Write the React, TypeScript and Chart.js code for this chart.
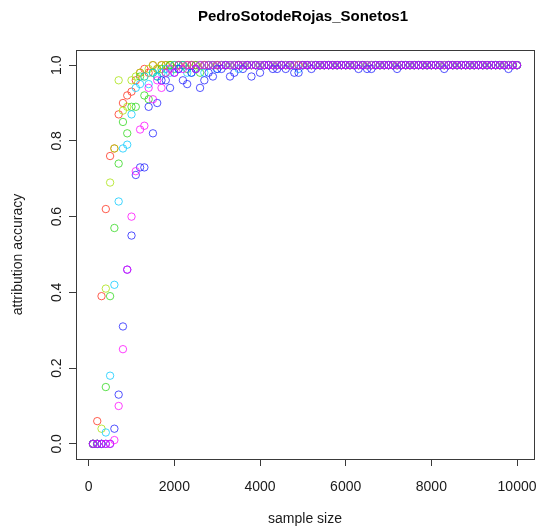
import React, { useEffect, useRef } from 'react';
import { Chart, registerables } from 'chart.js';

Chart.register(...registerables);

const chartTitle = 'PedroSotodeRojas_Sonetos1';
const xAxisTitle = 'sample size';
const yAxisTitle = 'attribution accuracy';

const sampleSizes = [
  100, 200, 300, 400, 500, 600, 700, 800, 900, 1000,
  1100, 1200, 1300, 1400, 1500, 1600, 1700, 1800, 1900, 2000,
  2100, 2200, 2300, 2400, 2500, 2600, 2700, 2800, 2900, 3000,
  3100, 3200, 3300, 3400, 3500, 3600, 3700, 3800, 3900, 4000,
  4100, 4200, 4300, 4400, 4500, 4600, 4700, 4800, 4900, 5000,
  5100, 5200, 5300, 5400, 5500, 5600, 5700, 5800, 5900, 6000,
  6100, 6200, 6300, 6400, 6500, 6600, 6700, 6800, 6900, 7000,
  7100, 7200, 7300, 7400, 7500, 7600, 7700, 7800, 7900, 8000,
  8100, 8200, 8300, 8400, 8500, 8600, 8700, 8800, 8900, 9000,
  9100, 9200, 9300, 9400, 9500, 9600, 9700, 9800, 9900, 10000,
];

const redValues = [
  0, 0.06, 0.39, 0.62, 0.76, 0.78, 0.87, 0.9, 0.92, 0.93,
  0.96, 0.98, 0.99, 0.98, 1, 0.99, 1, 1, 1, 1,
  1, 1, 1, 1, 1, 1, 1, 1, 1, 1,
  1, 1, 1, 1, 1, 1, 1, 1, 1, 1,
  1, 1, 1, 1, 1, 1, 1, 1, 1, 1,
  1, 1, 1, 1, 1, 1, 1, 1, 1, 1,
  1, 1, 1, 1, 1, 1, 1, 1, 1, 1,
  1, 1, 1, 1, 1, 1, 1, 1, 1, 1,
  1, 1, 1, 1, 1, 1, 1, 1, 1, 1,
  1, 1, 1, 1, 1, 1, 1, 1, 1, 1,
];

const yellowGreenValues = [
  0, 0, 0.04, 0.41, 0.69, 0.78, 0.96, 0.88, 0.89, 0.96,
  0.97, 0.98, 0.97, 0.99, 1, 0.99, 1, 1, 1, 1,
  1, 1, 1, 1, 0.99, 1, 1, 1, 1, 1,
  1, 1, 1, 1, 1, 1, 1, 1, 1, 1,
  1, 1, 1, 1, 1, 1, 1, 1, 1, 1,
  1, 1, 1, 1, 1, 1, 1, 1, 1, 1,
  1, 1, 1, 1, 1, 1, 1, 1, 1, 1,
  1, 1, 1, 1, 1, 1, 1, 1, 1, 1,
  1, 1, 1, 1, 1, 1, 1, 1, 1, 1,
  1, 1, 1, 1, 1, 1, 1, 1, 1, 1,
];

const greenValues = [
  0, 0, 0, 0.15, 0.39, 0.57, 0.74, 0.85, 0.82, 0.89,
  0.89, 0.97, 0.92, 0.91, 0.98, 0.97, 0.99, 0.98, 1, 0.99,
  1, 1, 0.99, 1, 1, 0.98, 1, 1, 1, 1,
  1, 1, 1, 1, 1, 1, 1, 1, 1, 1,
  1, 1, 1, 1, 1, 1, 1, 1, 1, 1,
  1, 1, 1, 1, 1, 1, 1, 1, 1, 1,
  1, 1, 1, 1, 1, 1, 1, 1, 1, 1,
  1, 1, 1, 1, 1, 1, 1, 1, 1, 1,
  1, 1, 1, 1, 1, 1, 1, 1, 1, 1,
  1, 1, 1, 1, 1, 1, 1, 1, 1, 1,
];

const cyanValues = [
  0, 0, 0, 0.03, 0.18, 0.42, 0.64, 0.78, 0.79, 0.87,
  0.94, 0.95, 0.97, 0.95, 0.98, 0.97, 0.98, 0.99, 0.98, 1,
  0.99, 1, 0.98, 0.98, 0.99, 1, 0.98, 1, 1, 0.99,
  1, 1, 1, 1, 0.99, 1, 1, 1, 1, 1,
  1, 1, 1, 1, 1, 1, 1, 1, 0.99, 1,
  1, 1, 1, 1, 1, 1, 1, 1, 1, 1,
  1, 1, 1, 1, 1, 1, 1, 1, 1, 1,
  1, 1, 1, 1, 1, 1, 1, 1, 1, 1,
  1, 1, 1, 1, 1, 1, 1, 1, 1, 1,
  1, 1, 1, 1, 1, 1, 1, 1, 1, 1,
];

const blueValues = [
  0, 0, 0, 0, 0, 0.04, 0.13, 0.31, 0.46, 0.55,
  0.71, 0.73, 0.73, 0.89, 0.82, 0.9, 0.96, 0.96, 0.94, 0.98,
  0.99, 0.96, 0.95, 0.98, 0.99, 0.94, 0.96, 0.98, 0.97, 0.99,
  0.99, 1, 0.97, 0.98, 1, 0.99, 1, 0.97, 1, 0.98,
  1, 1, 0.99, 0.99, 1, 0.99, 1, 0.98, 0.98, 1,
  1, 0.99, 1, 1, 1, 1, 1, 1, 1, 1,
  1, 1, 0.99, 1, 0.99, 0.99, 1, 1, 1, 1,
  1, 0.99, 1, 1, 1, 1, 1, 1, 1, 1,
  1, 1, 0.99, 1, 1, 1, 1, 1, 1, 1,
  1, 1, 1, 1, 1, 1, 1, 0.99, 1, 1,
];

const magentaValues = [
  0, 0, 0, 0, 0, 0.01, 0.1, 0.25, 0.46, 0.6,
  0.72, 0.83, 0.84, 0.94, 0.91, 0.96, 0.94, 0.98, 0.99, 0.98,
  1, 0.99, 1, 1, 0.99, 1, 1, 1, 1, 1,
  1, 1, 1, 1, 1, 1, 1, 1, 1, 1,
  1, 1, 1, 1, 1, 1, 1, 1, 1, 1,
  1, 1, 1, 1, 1, 1, 1, 1, 1, 1,
  1, 1, 1, 1, 1, 1, 1, 1, 1, 1,
  1, 1, 1, 1, 1, 1, 1, 1, 1, 1,
  1, 1, 1, 1, 1, 1, 1, 1, 1, 1,
  1, 1, 1, 1, 1, 1, 1, 1, 1, 1,
];

const seriesValues = [redValues, yellowGreenValues, greenValues, cyanValues, blueValues, magentaValues];
const seriesColors = [
  'rgba(255, 40, 20, 0.75)',
  'rgba(165, 225, 0, 0.75)',
  'rgba(40, 215, 20, 0.75)',
  'rgba(0, 200, 255, 0.75)',
  'rgba(25, 25, 255, 0.75)',
  'rgba(255, 0, 255, 0.75)',
];

const xTickValues = [0, 2000, 4000, 6000, 8000, 10000];
const xTickLabels = ['0', '2000', '4000', '6000', '8000', '10000'];
const yTickValues = [0, 0.2, 0.4, 0.6, 0.8, 1.0];
const yTickLabels = ['0.0', '0.2', '0.4', '0.6', '0.8', '1.0'];

const FONT = '"Liberation Sans", Arial, Helvetica, sans-serif';

const rPlotPlugin = {
  id: 'rPlotFrame',
  afterDraw(chart: any) {
    const { ctx, chartArea: ca, scales } = chart;
    const xs = scales.x;
    const ys = scales.y;
    ctx.save();
    ctx.strokeStyle = '#3a3a3a';
    ctx.lineWidth = 1;
    ctx.strokeRect(Math.round(ca.left) + 0.5, Math.round(ca.top) + 0.5, Math.round(ca.right - ca.left), Math.round(ca.bottom - ca.top));

    ctx.fillStyle = '#1a1a1a';
    ctx.font = `14px ${FONT}`;
    ctx.textAlign = 'center';
    ctx.textBaseline = 'middle';
    xTickValues.forEach((v, i) => {
      ctx.fillText(xTickLabels[i], xs.getPixelForValue(v), 487);
    });
    yTickValues.forEach((v, i) => {
      ctx.save();
      ctx.translate(57, ys.getPixelForValue(v));
      ctx.rotate(-Math.PI / 2);
      ctx.fillText(yTickLabels[i], 0, 0);
      ctx.restore();
    });

    const cx = (ca.left + ca.right) / 2;
    const cy = (ca.top + ca.bottom) / 2;
    ctx.fillText(xAxisTitle, cx, 519);
    ctx.save();
    ctx.translate(18, cy);
    ctx.rotate(-Math.PI / 2);
    ctx.fillText(yAxisTitle, 0, 0);
    ctx.restore();

    ctx.fillStyle = '#000';
    ctx.font = `bold 15px ${FONT}`;
    ctx.fillText(chartTitle, cx - 2, 17);
    ctx.restore();
  },
};

export default function App() {
  const canvasRef = useRef<HTMLCanvasElement | null>(null);

  useEffect(() => {
    if (!canvasRef.current) return;
    const datasets = seriesValues.map((vals, i) => ({
      label: `series${i + 1}`,
      data: sampleSizes.map((x, j) => ({ x, y: vals[j] })),
      showLine: false,
      pointStyle: 'circle',
      pointRadius: 3.7,
      pointBorderWidth: 1,
      pointBackgroundColor: 'rgba(0,0,0,0)',
      pointBorderColor: seriesColors[i],
      order: -i,
      clip: false,
    }));

    const tickGrid = {
      display: true,
      drawOnChartArea: false,
      drawTicks: true,
      tickLength: 7,
      color: '#3a3a3a',
      lineWidth: 1,
    };

    const chart = new Chart(canvasRef.current, {
      type: 'scatter',
      data: { datasets } as any,
      options: {
        animation: false,
        responsive: false,
        maintainAspectRatio: false,
        devicePixelRatio: 1,
        events: [],
        layout: { padding: { top: 50, right: 4.5, bottom: 0, left: 0 } },
        plugins: { legend: { display: false }, tooltip: { enabled: false }, title: { display: false } },
        scales: {
          x: {
            type: 'linear',
            min: -296,
            max: 10396,
            afterFit: (s: any) => { s.height = 70; },
            afterBuildTicks: (s: any) => { s.ticks = xTickValues.map((v) => ({ value: v })); },
            ticks: { display: false },
            grid: tickGrid,
            border: { display: false },
          },
          y: {
            type: 'linear',
            min: -0.04,
            max: 1.04,
            afterFit: (s: any) => { s.width = 76; },
            afterBuildTicks: (s: any) => { s.ticks = yTickValues.map((v) => ({ value: v })); },
            ticks: { display: false },
            grid: tickGrid,
            border: { display: false },
          },
        },
      } as any,
      plugins: [rPlotPlugin],
    });
    return () => chart.destroy();
  }, []);

  return (
    <div style={{ position: 'fixed', left: 0, top: 0, width: 539, height: 529, background: '#fff' }}>
      <canvas ref={canvasRef} width={539} height={529} style={{ display: 'block', width: 539, height: 529 }} />
    </div>
  );
}
